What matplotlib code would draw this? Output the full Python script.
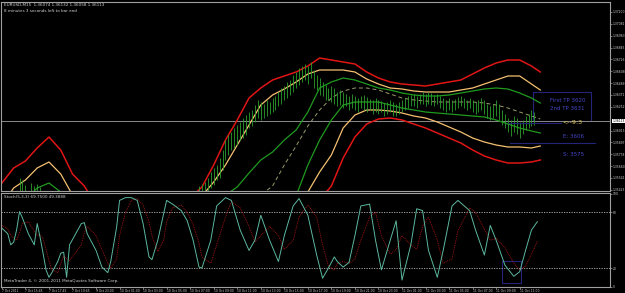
import numpy as np
import matplotlib
matplotlib.use("Agg")
import matplotlib.pyplot as plt
from matplotlib.patches import Rectangle

# prices are stored in points (price * 10000), e.g. 13611 = 1.3611
band_bars = [0, 4, 8, 12, 16, 20, 24, 28, 32, 36, 40, 44, 48, 52, 56, 60, 64, 68, 72, 76, 80, 84, 88, 92,
             96, 100, 104, 108, 112, 116, 120, 124, 128, 132, 136, 140, 144, 148, 152, 156, 160, 164,
             168, 172, 176, 180, 183]

red_upper = [13549, 13564, 13571, 13584, 13595, 13582, 13558, 13546, 13527, 13517, 13512, 13510, 13510,
             13512, 13517, 13524, 13534, 13545, 13567, 13592, 13612, 13634, 13644, 13652, 13656, 13660,
             13666, 13674, 13672, 13670, 13668, 13660, 13654, 13650, 13648, 13647, 13646, 13648, 13650,
             13652, 13658, 13664, 13669, 13672, 13672, 13666, 13660]
orange_upper = [13527, 13544, 13552, 13564, 13570, 13558, 13537, 13522, 13512, 13504, 13500, 13498, 13498,
                13500, 13504, 13512, 13524, 13536, 13550, 13567, 13587, 13607, 13627, 13637, 13643, 13650,
                13658, 13662, 13662, 13662, 13660, 13653, 13648, 13644, 13643, 13641, 13640, 13640, 13640,
                13642, 13644, 13648, 13652, 13656, 13656, 13648, 13642]
green_upper = [13517, 13522, 13532, 13544, 13549, 13540, 13527, 13512, 13502, 13494, 13492, 13490, 13490,
               13492, 13496, 13502, 13510, 13522, 13532, 13537, 13545, 13559, 13572, 13580, 13592, 13602,
               13620, 13644, 13650, 13654, 13652, 13648, 13644, 13642, 13639, 13637, 13636, 13636, 13637,
               13639, 13641, 13643, 13644, 13643, 13639, 13634, 13629]
middle = [13497, 13499, 13501, 13503, 13506, 13504, 13497, 13492, 13487, 13484, 13482, 13482, 13482,
          13484, 13488, 13492, 13497, 13504, 13512, 13519, 13527, 13532, 13537, 13546, 13567, 13586,
          13606, 13622, 13634, 13641, 13644, 13644, 13642, 13638, 13634, 13632, 13631, 13630, 13630,
          13630, 13630, 13629, 13627, 13624, 13620, 13616, 13613]
green_lower = [13482, 13482, 13482, 13482, 13484, 13482, 13477, 13472, 13467, 13464, 13462, 13462, 13462,
               13464, 13467, 13472, 13477, 13482, 13487, 13492, 13497, 13504, 13512, 13520, 13527, 13536,
               13567, 13592, 13612, 13627, 13630, 13630, 13630, 13627, 13624, 13622, 13620, 13619, 13618,
               13617, 13616, 13615, 13612, 13608, 13604, 13601, 13599]
orange_lower = [13467, 13467, 13467, 13467, 13469, 13467, 13462, 13457, 13452, 13449, 13447, 13447, 13447,
                13449, 13452, 13457, 13462, 13467, 13472, 13477, 13482, 13487, 13494, 13502, 13510, 13522,
                13540, 13560, 13577, 13604, 13617, 13622, 13622, 13621, 13619, 13616, 13614, 13610, 13605,
                13600, 13594, 13590, 13587, 13585, 13585, 13584, 13586]
red_lower = [13452, 13452, 13452, 13452, 13454, 13452, 13447, 13442, 13437, 13434, 13432, 13432, 13432,
             13434, 13437, 13442, 13447, 13452, 13457, 13462, 13467, 13472, 13477, 13484, 13492, 13502,
             13517, 13532, 13546, 13574, 13595, 13608, 13613, 13614, 13612, 13608, 13604, 13599, 13594,
             13589, 13582, 13576, 13572, 13569, 13569, 13570, 13572]

# OHLC bars: early cluster on 7 Oct, then from bar 67 on
left_bars = [6, 7, 8, 10, 11, 12, 13]
left_high = [13554, 13552, 13547, 13549, 13546, 13548, 13545]
left_low = [13537, 13537, 13537, 13537, 13537, 13537, 13537]

bar_start = 67
bar_high = [13546, 13548, 13550, 13554, 13560, 13564, 13567, 13574, 13582, 13592, 13597, 13600, 13604,
            13607, 13610, 13614, 13617, 13620, 13622, 13627, 13632, 13630, 13628, 13632, 13630, 13634,
            13636, 13640, 13644, 13646, 13650, 13652, 13657, 13660, 13664, 13666, 13668, 13666, 13670,
            13662, 13657, 13654, 13650, 13647, 13644, 13646, 13644, 13640, 13642, 13640, 13638, 13636,
            13638, 13636, 13634, 13636, 13637, 13635, 13633, 13632, 13634, 13632, 13631, 13629, 13630,
            13632, 13630, 13628, 13630, 13632, 13634, 13636, 13637, 13638, 13636, 13638, 13640, 13638,
            13640, 13639, 13637, 13638, 13636, 13634, 13632, 13634, 13632, 13633, 13635, 13636, 13634,
            13632, 13634, 13632, 13630, 13632, 13634, 13632, 13628, 13626, 13628, 13632, 13628, 13622,
            13618, 13614, 13612, 13616, 13614, 13610, 13612, 13616, 13618, 13622, 13620]
bar_low = [13536, 13538, 13539, 13540, 13544, 13547, 13552, 13554, 13562, 13572, 13577, 13582, 13584,
           13587, 13592, 13594, 13597, 13604, 13606, 13610, 13614, 13612, 13614, 13616, 13618, 13620,
           13622, 13626, 13628, 13632, 13634, 13637, 13640, 13644, 13647, 13650, 13652, 13648, 13654,
           13644, 13642, 13637, 13636, 13632, 13632, 13630, 13628, 13626, 13627, 13624, 13626, 13622,
           13624, 13622, 13620, 13624, 13622, 13620, 13622, 13618, 13620, 13618, 13620, 13616, 13618,
           13620, 13616, 13616, 13618, 13620, 13622, 13624, 13626, 13626, 13624, 13628, 13628, 13626,
           13628, 13627, 13626, 13628, 13624, 13622, 13620, 13622, 13620, 13622, 13624, 13626, 13624,
           13622, 13624, 13620, 13618, 13620, 13622, 13618, 13614, 13612, 13614, 13616, 13612, 13607,
           13604, 13600, 13596, 13600, 13598, 13594, 13598, 13602, 13604, 13606, 13607]
last_price = 13611

price_ticks = ["1.37200", "1.37082", "1.36963", "1.36845", "1.36726", "1.36608", "1.36489", "1.36371",
               "1.36252", "1.36015", "1.35897", "1.35778", "1.35660", "1.35541", "1.35423"]

# Stochastic(5,3,3)
stoch_bars = [0, 2, 3, 4, 5, 6, 7, 9, 11, 12, 13, 14, 15, 16, 17, 19, 20, 21, 22, 23, 27, 28, 29, 32, 34,
              36, 37, 39, 40, 42, 44, 46, 48, 50, 51, 53, 55, 56, 58, 61, 63, 65, 67, 68, 71, 73, 76, 78,
              81, 84, 86, 88, 91, 94, 96, 99, 101, 104, 107, 109, 111, 113, 114, 116, 118, 120, 122, 125,
              127, 129, 132, 134, 136, 139, 141, 143, 145, 148, 150, 153, 155, 159, 161, 164, 166, 168,
              171, 174, 176, 178, 180, 182]
stoch_main = [63, 57, 45, 48, 61, 81, 74, 57, 45, 68, 53, 36, 18, 10, 15, 27, 36, 37, 10, 45, 68, 69, 57,
              39, 21, 15, 27, 64, 93, 96, 96, 93, 68, 32, 29, 50, 79, 93, 89, 82, 71, 50, 21, 20, 50, 87,
              96, 93, 61, 39, 50, 77, 50, 27, 55, 87, 95, 77, 34, 9, 20, 32, 27, 21, 26, 55, 87, 89, 50,
              18, 50, 71, 7, 45, 84, 82, 39, 10, 39, 87, 93, 82, 61, 34, 66, 50, 23, 11, 16, 39, 61, 70]
stoch_signal = [66, 62, 56, 52, 50, 58, 68, 70, 60, 55, 56, 52, 40, 28, 18, 15, 25, 33, 30, 28, 45, 58, 65,
                55, 40, 25, 20, 30, 55, 80, 93, 95, 88, 70, 55, 38, 50, 70, 85, 88, 80, 67, 47, 32, 25,
                45, 75, 92, 85, 65, 48, 55, 65, 55, 40, 50, 75, 88, 75, 45, 22, 18, 25, 27, 25, 30, 50,
                75, 80, 55, 35, 40, 55, 45, 40, 65, 75, 50, 25, 30, 60, 85, 80, 62, 50, 52, 42, 25, 18,
                22, 35, 49]

time_labels = ["7 Oct 2011", "7 Oct 15:45", "7 Oct 17:45", "7 Oct 19:45", "9 Oct 23:00", "10 Oct 01:00",
               "10 Oct 03:00", "10 Oct 05:00", "10 Oct 07:00", "10 Oct 09:00", "10 Oct 11:00",
               "10 Oct 13:00", "10 Oct 15:00", "10 Oct 17:00", "10 Oct 19:00", "10 Oct 21:00",
               "10 Oct 23:00", "11 Oct 01:00", "11 Oct 03:00", "11 Oct 05:00", "11 Oct 07:00",
               "11 Oct 09:00", "11 Oct 11:00"]

W, H = 625, 293
fig = plt.figure(figsize=(W / 100, H / 100), dpi=100, facecolor="black")
frame = "#a0a0a0"
lab = "#d0d0d0"
fs = 3.0
tfs = 2.2

def px_axes(x0, y0, x1, y1):
    return fig.add_axes([x0 / W, 1 - y1 / H, (x1 - x0) / W, (y1 - y0) / H])

ax = px_axes(1, 2, 610, 191)
ax2 = px_axes(1, 193, 610, 287)
for a in (ax, ax2):
    a.set_facecolor("black")
    a.set_xlim(-0.3, 206.7)
    for s in a.spines.values():
        s.set_color(frame)
        s.set_linewidth(0.8)
    a.yaxis.tick_right()
    a.tick_params(axis="y", colors=frame, labelcolor=lab, labelsize=tfs, length=1.2, width=0.5, pad=0.6)

# price panel
ax.set_ylim(13541, 13730)
ax.axhline(last_price, color="#8a8a8a", lw=0.7)
ax.plot(band_bars, red_upper, color="#e01515", lw=1.1)
ax.plot(band_bars, red_lower, color="#e01515", lw=1.1)
ax.plot(band_bars, orange_upper, color="#f5c070", lw=0.9)
ax.plot(band_bars, orange_lower, color="#f5c070", lw=0.9)
ax.plot(band_bars, green_upper, color="#1f9a1f", lw=0.9)
ax.plot(band_bars, green_lower, color="#1f9a1f", lw=0.9)
ax.plot(band_bars, middle, color="#9a9a6a", lw=0.7, ls=(0, (4, 3)))

bx = np.arange(bar_start, bar_start + len(bar_high))
ax.vlines(bx, bar_low, bar_high, color="#2aa02a", lw=0.6)
ax.vlines(left_bars, left_low, left_high, color="#2aa02a", lw=0.6)

ax.set_xticks([])
tick_vals = [float(t) * 10000 for t in price_ticks]
ax.set_yticks(tick_vals)
ax.set_yticklabels(price_ticks)
ax.text(1.004, last_price, "1.36113", transform=ax.get_yaxis_transform(), fontsize=tfs, color="black",
        va="center", ha="left", bbox=dict(boxstyle="square,pad=0.1", fc="white", ec="none"))

# trade annotations
ax.add_patch(Rectangle((180.6, 13611), 19.5, 29, fill=False, ec="#24247a", lw=0.8))
ax.text(192.3, 13632, "First TP 3620", color="#4646c8", fontsize=4.0, ha="center", va="center")
ax.text(192.3, 13624, "2nd TP 3631", color="#4646c8", fontsize=4.0, ha="center", va="center")
ax.plot([172, 190], [13609.5, 13609.5], color="#24247a", lw=0.7)
ax.text(190.5, 13610, "<--9:3", color="#e8d060", fontsize=4.6, ha="left", va="center")
ax.text(194.2, 13595, "E: 3606", color="#4646c8", fontsize=4.0, ha="center", va="center")
ax.plot([172.8, 201.7], [13589, 13589], color="#24247a", lw=0.8)
ax.text(194.2, 13578, "S: 3575", color="#4646c8", fontsize=4.0, ha="center", va="center")

# stochastic panel
ax2.set_ylim(-0.5, 101)
ax2.axhline(80, color="#b8b8b8", lw=0.6, ls=(0, (1.5, 1.5)))
ax2.axhline(20, color="#b8b8b8", lw=0.6, ls=(0, (1.5, 1.5)))
ax2.plot(stoch_bars, stoch_signal, color="#c01818", lw=0.6, ls=(0, (1, 1.2)))
ax2.plot(stoch_bars, stoch_main, color="#5cb8a0", lw=0.7)
ax2.add_patch(Rectangle((170, 4), 6.5, 24, fill=False, ec="#24247a", lw=0.8))
ax2.set_yticks([0, 20, 80, 100])
ax2.set_yticklabels(["0", "20", "80", "100"])
ax2.set_xticks(np.arange(0, 8 * len(time_labels), 8))
ax2.set_xticklabels(time_labels, ha="left")
ax2.tick_params(axis="x", colors=frame, labelcolor=lab, labelsize=tfs, length=1.2, width=0.5, pad=0.3)

fig.text(4 / W, 1 - 5 / H, "EURUSD,M15  1.36074 1.36132 1.36058 1.36113", color=lab, fontsize=fs, va="center")
fig.text(4 / W, 1 - 11 / H, "8 minutes 3 seconds left to bar end", color=lab, fontsize=fs, va="center")
fig.text(4 / W, 1 - 197 / H, "Stoch(5,3,3) 69.7500 49.3888", color=lab, fontsize=fs, va="center")
fig.text(4 / W, 1 - 281 / H, "MetaTrader 4, \u00a9 2001-2011 MetaQuotes Software Corp.", color=lab,
         fontsize=fs, va="center")

fig.savefig("out.png", dpi=100, facecolor="black")
